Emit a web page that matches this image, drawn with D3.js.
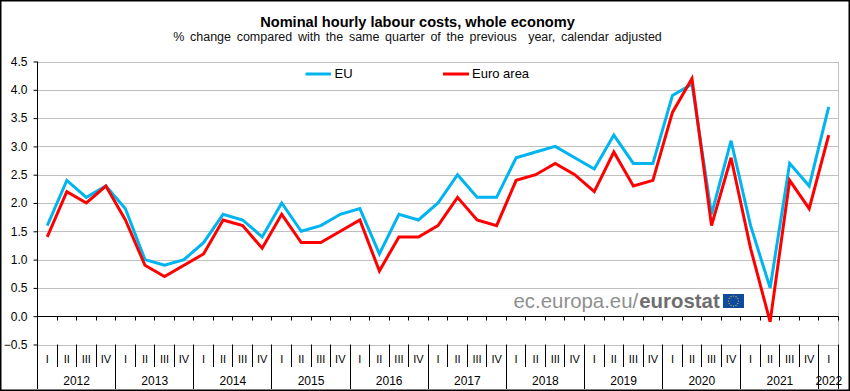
<!DOCTYPE html>
<html>
<head>
<meta charset="utf-8">
<script src="https://cdn.jsdelivr.net/npm/d3@7"></script>
<style>
body { margin: 0; background: #fff; }
svg { display: block; font-family: "Liberation Sans", Arial, sans-serif; }
</style>
</head>
<body>
<svg id="chart"></svg>
<script>
const width = 850;
const height = 391;

const years = [2012, 2013, 2014, 2015, 2016, 2017, 2018, 2019, 2020, 2021, 2022];
const quarterNames = ["I", "II", "III", "IV"];
const yTicks = [-0.5, 0, 0.5, 1, 1.5, 2, 2.5, 3, 3.5, 4, 4.5];

const euValues = [
    1.6, 2.4, 2.1, 2.3,
    1.9, 1.0, 0.9, 1.0,
    1.3, 1.8, 1.7, 1.4,
    2.0, 1.5, 1.6, 1.8,
    1.9, 1.1, 1.8, 1.7,
    2.0, 2.5, 2.1, 2.1,
    2.8, 2.9, 3.0, 2.8,
    2.6, 3.2, 2.7, 2.7,
    3.9, 4.1, 1.8, 3.1,
    1.6, 0.5, 2.7, 2.3,
    3.7
];
const euroAreaValues = [
    1.4, 2.2, 2.0, 2.3,
    1.7, 0.9, 0.7, 0.9,
    1.1, 1.7, 1.6, 1.2,
    1.8, 1.3, 1.3, 1.5,
    1.7, 0.8, 1.4, 1.4,
    1.6, 2.1, 1.7, 1.6,
    2.4, 2.5, 2.7, 2.5,
    2.2, 2.9, 2.3, 2.4,
    3.6, 4.2, 1.6, 2.8,
    1.2, -0.1, 2.4, 1.9,
    3.2
];

// one entry per quarter, 2012 Q1 to 2022 Q1
const quarters = euValues.map((d, i) => ({
    index: i,
    year: years[Math.floor(i / 4)],
    name: quarterNames[i % 4]
}));

const left = 37.5, right = 838.5;
const axisBottom = 344.5, quarterBottom = 367, yearBottom = 389;

const svg = d3.select("#chart")
    .attr("width", width)
    .attr("height", height)
    .attr("viewBox", `0 0 ${width} ${height}`);

const x = d3.scaleBand()
    .domain(quarters.map(d => d.index))
    .range([left, right]);

const y = d3.scaleLinear()
    .domain([-0.5, 4.5])
    .range([axisBottom, 61.5]);

// picture frame
svg.append("rect")
    .attr("x", 0.75)
    .attr("y", 0.75)
    .attr("width", width - 1.5)
    .attr("height", height - 1.5)
    .attr("fill", "none")
    .attr("stroke", "#000")
    .attr("stroke-width", 1.5);

svg.append("text")
    .attr("x", 417.5)
    .attr("y", 27)
    .attr("text-anchor", "middle")
    .attr("font-size", 14.6)
    .attr("font-weight", "bold")
    .attr("fill", "#000")
    .text("Nominal hourly labour costs, whole economy");

svg.append("text")
    .attr("x", 417.5)
    .attr("y", 41)
    .attr("text-anchor", "middle")
    .attr("font-size", 12.5)
    .attr("word-spacing", 2.2)
    .style("white-space", "pre")
    .attr("fill", "#111")
    .text("% change compared with the same quarter of the previous  year, calendar adjusted");

// gridlines
svg.append("g")
    .selectAll("line")
    .data(yTicks)
    .enter().append("line")
    .attr("x1", left)
    .attr("x2", right)
    .attr("y1", d => Math.round(y(d)) + 0.5)
    .attr("y2", d => Math.round(y(d)) + 0.5)
    .attr("stroke", "#c0c0c0")
    .attr("stroke-width", 1);

svg.append("line")
    .attr("x1", right)
    .attr("x2", right)
    .attr("y1", y(4.5))
    .attr("y2", axisBottom)
    .attr("stroke", "#c0c0c0");

// y axis
const yAxis = d3.axisLeft(y)
    .tickValues(yTicks)
    .tickSize(4)
    .tickPadding(6)
    .tickFormat(d3.format(".1f"));

const yAxisG = svg.append("g")
    .attr("transform", `translate(${left},0)`)
    .call(yAxis);
yAxisG.select(".domain").remove();
yAxisG.selectAll("text")
    .attr("font-size", 12)
    .attr("font-family", "Liberation Sans")
    .attr("fill", "#000");
yAxisG.selectAll("line").attr("stroke", "#000");

svg.append("line")
    .attr("x1", left)
    .attr("x2", left)
    .attr("y1", y(4.5))
    .attr("y2", yearBottom)
    .attr("stroke", "#000");

// zero line with short ticks
const zeroY = Math.round(y(0)) + 0.5;
svg.append("line")
    .attr("x1", left)
    .attr("x2", right)
    .attr("y1", zeroY)
    .attr("y2", zeroY)
    .attr("stroke", "#000");

const tickEdges = quarters.map(d => x(d.index)).concat([right]);

svg.append("g")
    .selectAll("line")
    .data(tickEdges)
    .enter().append("line")
    .attr("x1", d => Math.round(d - 0.5) + 0.5)
    .attr("x2", d => Math.round(d - 0.5) + 0.5)
    .attr("y1", zeroY)
    .attr("y2", zeroY + 4)
    .attr("stroke", "#000");

// quarter separators below the axis
svg.append("g")
    .selectAll("line")
    .data(tickEdges)
    .enter().append("line")
    .attr("x1", d => Math.round(d - 0.5) + 0.5)
    .attr("x2", d => Math.round(d - 0.5) + 0.5)
    .attr("y1", Math.round(axisBottom) - 0.5)
    .attr("y2", quarterBottom)
    .attr("stroke", "#000");

svg.append("g")
    .selectAll("text")
    .data(quarters)
    .enter().append("text")
    .attr("x", d => x(d.index) + x.bandwidth() / 2)
    .attr("y", 363)
    .attr("text-anchor", "middle")
    .attr("font-size", 11)
    .attr("fill", "#000")
    .text(d => d.name);

// year separators and labels
const yearGroups = years.map((year, i) => {
    const items = quarters.filter(d => d.year === year);
    return { year: year, start: x(items[0].index), n: items.length };
});

svg.append("g")
    .selectAll("line")
    .data(yearGroups.slice(1).map(d => d.start).concat([right]))
    .enter().append("line")
    .attr("x1", d => Math.round(d - 0.5) + 0.5)
    .attr("x2", d => Math.round(d - 0.5) + 0.5)
    .attr("y1", quarterBottom)
    .attr("y2", yearBottom)
    .attr("stroke", "#000");

svg.append("g")
    .selectAll("text")
    .data(yearGroups)
    .enter().append("text")
    .attr("x", d => d.start + d.n * x.bandwidth() / 2)
    .attr("y", 385)
    .attr("text-anchor", "middle")
    .attr("font-size", 12)
    .attr("fill", "#000")
    .text(d => d.year);

// eurostat logo
svg.append("text")
    .attr("x", 513.5)
    .attr("y", 308)
    .attr("font-size", 20.4)
    .attr("fill", "#8f8f8f")
    .text("ec.europa.eu/")
    .append("tspan")
    .attr("font-weight", "bold")
    .attr("dx", 1)
    .attr("fill", "#6e6e6e")
    .text("eurostat");

const flag = svg.append("g").attr("transform", "translate(723,294)");
flag.append("rect")
    .attr("width", 21)
    .attr("height", 14)
    .attr("fill", "#0f4a9c");
flag.selectAll("circle")
    .data(d3.range(12))
    .enter().append("circle")
    .attr("cx", d => 10.5 + 5 * Math.cos(d * Math.PI / 6))
    .attr("cy", d => 7 + 5 * Math.sin(d * Math.PI / 6))
    .attr("r", 0.6)
    .attr("fill", "#e6d23c");

// series
const line = d3.line()
    .x((d, i) => x(i) + x.bandwidth() / 2)
    .y(d => y(d));

svg.append("path")
    .datum(euValues)
    .attr("d", line)
    .attr("fill", "none")
    .attr("stroke", "#00b4f0")
    .attr("stroke-width", 3);

svg.append("path")
    .datum(euroAreaValues)
    .attr("d", line)
    .attr("fill", "none")
    .attr("stroke", "#ff0000")
    .attr("stroke-width", 3);

// legend
const legendItems = [
    { label: "EU", color: "#00b4f0", x1: 305.5, x2: 331, textX: 334.5 },
    { label: "Euro area", color: "#ff0000", x1: 443, x2: 469, textX: 472 }
];
const legend = svg.append("g")
    .selectAll("g")
    .data(legendItems)
    .enter().append("g");
legend.append("line")
    .attr("x1", d => d.x1)
    .attr("x2", d => d.x2)
    .attr("y1", 74)
    .attr("y2", 74)
    .attr("stroke", d => d.color)
    .attr("stroke-width", 3);
legend.append("text")
    .attr("x", d => d.textX)
    .attr("y", 78)
    .attr("font-size", 13)
    .attr("fill", "#000")
    .text(d => d.label);
</script>
</body>
</html>
